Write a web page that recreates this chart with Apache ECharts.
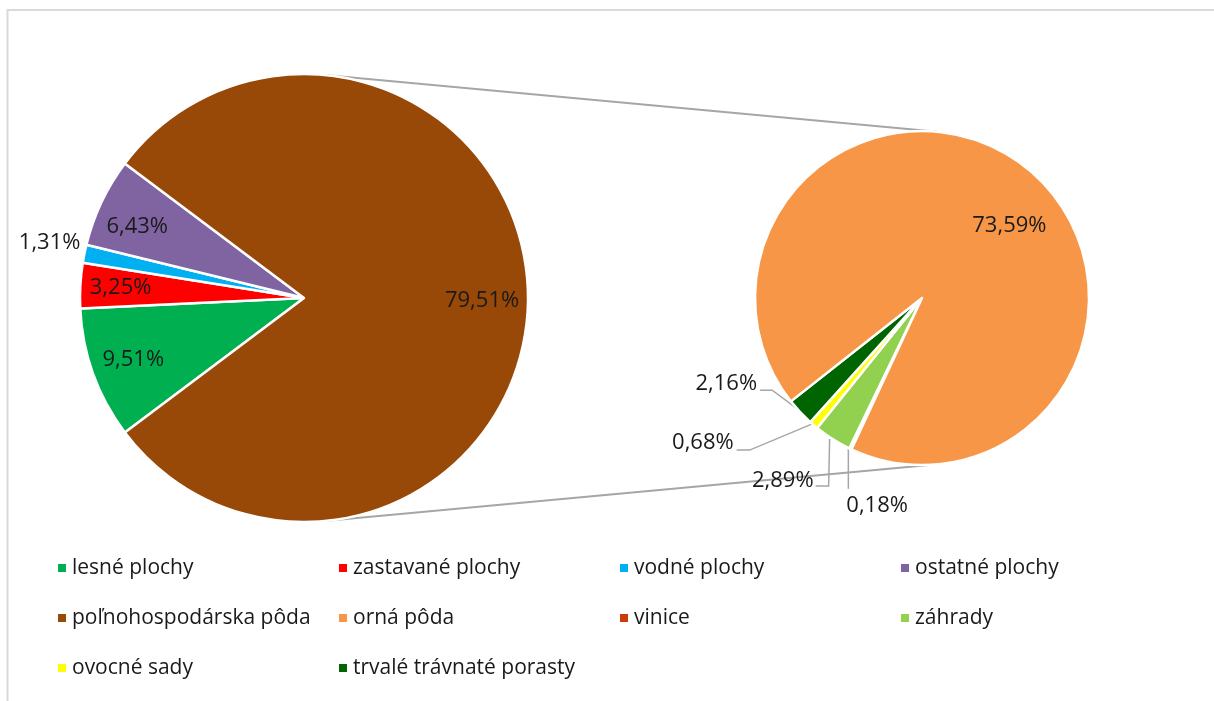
<!DOCTYPE html>
<html><head><meta charset="utf-8">
<script src="https://cdn.jsdelivr.net/npm/echarts@6/dist/echarts.min.js"></script>
<style>html,body{margin:0;padding:0;background:#fff;overflow:hidden}#c{width:1214px;height:701px}</style>
</head><body><div id="c"></div>
<script>
// ---- data ----
const mainCategories = ['lesné plochy', 'zastavané plochy', 'vodné plochy', 'ostatné plochy', 'poľnohospodárska pôda'];
const mainValues = [9.51, 3.25, 1.31, 6.43, 79.51];
const mainColors = ['#00b050', '#ff0000', '#00b0f0', '#8064a2', '#984807'];
const subCategories = ['vinice', 'záhrady', 'ovocné sady', 'trvalé trávnaté porasty', 'orná pôda'];
const subValues = [0.18, 2.89, 0.68, 2.16, 73.59];
const subColors = ['#cc3b0a', '#92d050', '#ffff00', '#006400', '#f79646'];
const legendOrder = ['lesné plochy', 'zastavané plochy', 'vodné plochy', 'ostatné plochy',
  'poľnohospodárska pôda', 'orná pôda', 'vinice', 'záhrady', 'ovocné sady', 'trvalé trávnaté porasty'];

// ---- layout ----
const FONT = '"Open Sans", sans-serif';
const TXT = '#1a1a1a';
const sum = a => a.reduce((s, v) => s + v, 0);
const G1 = { cx: 304, cy: 298, r: 224 };
G1.start = 180 + (sum(mainValues.slice(0, 4)) / sum(mainValues)) * 180;
const G2 = { cx: 922, cy: 298, r: 167, start: 245 };

function midAngle(values, start, i) {
  const total = sum(values);
  const cum = sum(values.slice(0, i));
  return start - (cum + values[i] / 2) / total * 360;
}
function pt(g, ang, rad) {
  const a = ang * Math.PI / 180;
  return [g.cx + rad * Math.cos(a), g.cy - rad * Math.sin(a)];
}

const mainLabelSpec = [
  { rf: 0.81 },
  { rf: 0.82 },
  { out: true, dx: -4, dy: -11, align: 'right' },
  { rf: 0.81, ang: 156.8 },
  { rf: 0.795, ang: -1 }
];
const subLabelSpec = [
  { out: true, dx: -4, dy: 57, align: 'left', line: [[-2, 0], [-2, 40]] },
  { out: true, dx: -19, dy: 42, align: 'right', line: [[-3, 0], [-4, 47], [-17, 47]] },
  { out: true, dx: -80, dy: 18, align: 'right', line: [[-2, -1], [-64, 25], [-77, 25]] },
  { out: true, dx: -43, dy: -28, align: 'right', line: [[-1, -2], [-28, -22], [-40, -22]] },
  { rf: 0.68, ang: 39.7 }
];

function makeLayout(g, values, specs) {
  return function (params) {
    const i = params.dataIndex;
    const s = specs[i];
    const m = midAngle(values, g.start, i);
    if (!s.out) {
      const p = pt(g, s.ang != null ? s.ang : m, g.r * s.rf);
      return { x: p[0], y: p[1], align: 'center', verticalAlign: 'middle' };
    }
    const a = pt(g, m, g.r);
    const res = { x: a[0] + s.dx, y: a[1] + s.dy, align: s.align, verticalAlign: 'middle' };
    if (s.line) res.labelLinePoints = s.line.map(q => [a[0] + q[0], a[1] + q[1]]);
    return res;
  };
}

function buildData(names, values, colors, specs) {
  return names.map((n, i) => ({
    name: n,
    value: values[i],
    itemStyle: { color: colors[i] },
    label: { position: specs[i].out ? 'outside' : 'inside' },
    labelLine: { show: !!specs[i].line }
  }));
}

function tangent(a, b, side) {
  const dx = b.cx - a.cx, dy = b.cy - a.cy;
  const d = Math.hypot(dx, dy);
  const ux = dx / d, uy = dy / d;
  const k = (a.r - b.r) / d;
  const h = Math.sqrt(1 - k * k);
  const px = -uy * side, py = ux * side;
  const nx = k * ux + h * px, ny = k * uy + h * py;
  return { x1: a.cx + a.r * nx, y1: a.cy + a.r * ny, x2: b.cx + b.r * nx, y2: b.cy + b.r * ny };
}

const fmt = p => p.value.toFixed(2).replace('.', ',') + '%';
const labelBase = { show: true, formatter: fmt, color: TXT, fontSize: 22, fontFamily: FONT, rotate: 0 };

const chart = echarts.init(document.getElementById('c'), null, { renderer: 'canvas' });
chart.setOption({
  animation: false,
  backgroundColor: '#fff',
  legend: {
    data: legendOrder,
    left: 56, top: 553, width: 1110,
    padding: 0,
    orient: 'horizontal',
    icon: 'rect', itemWidth: 10, itemHeight: 10, itemGap: 20,
    selectedMode: false,
    textStyle: { fontSize: 21, fontFamily: FONT, color: TXT, width: 245, lineHeight: 30 }
  },
  graphic: [
    { type: 'rect', z: 0, silent: true, shape: { x: 7.5, y: 10, width: 1400, height: 900 },
      style: { fill: null, stroke: '#d9d9d9', lineWidth: 2 } },
    { type: 'line', z: 0, silent: true, shape: tangent(G1, G2, -1), style: { stroke: '#a6a6a6', lineWidth: 2 } },
    { type: 'line', z: 0, silent: true, shape: tangent(G1, G2, 1), style: { stroke: '#a6a6a6', lineWidth: 2 } }
  ],
  series: [
    {
      type: 'pie', z: 2,
      center: [G1.cx, G1.cy], radius: G1.r,
      startAngle: G1.start, clockwise: true,
      avoidLabelOverlap: false,
      emphasis: { disabled: true },
      itemStyle: { borderColor: '#fff', borderWidth: 2.5 },
      label: labelBase,
      labelLine: { show: false, length: 2, length2: 0 },
      labelLayout: makeLayout(G1, mainValues, mainLabelSpec),
      data: buildData(mainCategories, mainValues, mainColors, mainLabelSpec)
    },
    {
      type: 'pie', z: 2,
      center: [G2.cx, G2.cy], radius: G2.r,
      startAngle: G2.start, clockwise: true,
      avoidLabelOverlap: false,
      emphasis: { disabled: true },
      itemStyle: { borderColor: '#fff', borderWidth: 2.5 },
      label: labelBase,
      labelLine: { length: 10, length2: 10, lineStyle: { color: '#a6a6a6', width: 1.5 } },
      labelLayout: makeLayout(G2, subValues, subLabelSpec),
      data: buildData(subCategories, subValues, subColors, subLabelSpec)
    }
  ]
});
</script>
</body></html>
